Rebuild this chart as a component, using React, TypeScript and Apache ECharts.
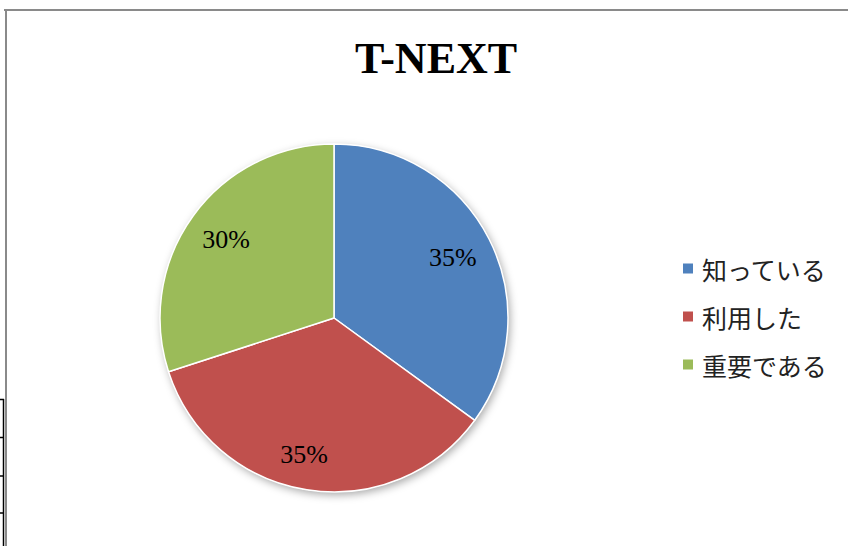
import React, { useEffect, useRef } from "react";
import * as echarts from "echarts";

const titleText = "T-NEXT";
const categories = ["知っている", "利用した", "重要である"];
const values = [35, 35, 30];
const colors = ["#4F81BD", "#C0504D", "#9BBB59"];

export default function App() {
  const ref = useRef<HTMLDivElement>(null);
  useEffect(() => {
    if (!ref.current) return;
    const chart = echarts.init(ref.current, null, { renderer: "svg" });
    const data = categories.map((name, i) => ({
      name,
      value: values[i],
      itemStyle: { color: colors[i] },
    }));
    const labelData = categories.map((name, i) => ({
      name,
      value: values[i],
      label: i === 1 ? { offset: [-9, 5] } : {},
    }));
    const center = [334, 318];
    const R = 174;
    chart.setOption({
      animation: false,
      backgroundColor: "#ffffff",
      title: {
        text: titleText,
        left: 431,
        textAlign: "center",
        top: 31,
        textStyle: {
          fontFamily: "Liberation Serif",
          fontWeight: "bold",
          fontSize: 44,
          color: "#000",
        },
      },
      legend: {
        orient: "vertical",
        left: 676,
        top: 251,
        icon: "rect",
        itemWidth: 12,
        itemHeight: 12,
        itemGap: 23,
        data: categories,
        selectedMode: false,
        textStyle: {
          fontFamily: "Noto Sans CJK JP",
          fontSize: 25,
          lineHeight: 25,
          color: "#222",
          padding: [0, 0, 0, 3],
        },
      },
      graphic: [
        { type: "line", shape: { x1: 4, y1: 10, x2: 848, y2: 10 }, style: { stroke: "#8a8a8a", lineWidth: 2 } },
        { type: "line", shape: { x1: 6, y1: 9, x2: 6, y2: 546 }, style: { stroke: "#8a8a8a", lineWidth: 2 } },
        { type: "line", shape: { x1: 3.5, y1: 399, x2: 3.5, y2: 546 }, style: { stroke: "#000", lineWidth: 1.5 } },
        { type: "line", shape: { x1: 0, y1: 399.5, x2: 4, y2: 399.5 }, style: { stroke: "#000", lineWidth: 1.5 } },
        { type: "line", shape: { x1: 0, y1: 437.5, x2: 4, y2: 437.5 }, style: { stroke: "#000", lineWidth: 1.5 } },
        { type: "line", shape: { x1: 0, y1: 476, x2: 4, y2: 476 }, style: { stroke: "#000", lineWidth: 1.5 } },
        { type: "line", shape: { x1: 0, y1: 513, x2: 4, y2: 513 }, style: { stroke: "#000", lineWidth: 1.5 } },
      ],
      series: [
        {
          type: "pie",
          name: "shadow",
          silent: true,
          center,
          radius: R,
          z: 1,
          legendHoverLink: false,
          label: { show: false },
          labelLine: { show: false },
          data: [{ name: "", value: 1 }],
          itemStyle: {
            color: "#ffffff",
            shadowBlur: 8,
            shadowColor: "rgba(0,0,0,0.35)",
            shadowOffsetX: 2,
            shadowOffsetY: 3,
          },
          tooltip: { show: false },
        },
        {
          type: "pie",
          name: "main",
          center,
          radius: R,
          startAngle: 90,
          clockwise: true,
          z: 2,
          label: { show: false },
          labelLine: { show: false },
          itemStyle: { borderColor: "#ffffff", borderWidth: 1.5 },
          emphasis: { disabled: true },
          data,
        },
        {
          type: "pie",
          name: "labels",
          silent: true,
          center,
          radius: [R * 0.5, R],
          startAngle: 90,
          clockwise: true,
          z: 3,
          itemStyle: { color: "transparent" },
          label: {
            show: true,
            position: "inside",
            formatter: "{d}%",
            fontFamily: "Liberation Serif",
            fontSize: 26,
            color: "#000",
          },
          labelLine: { show: false },
          emphasis: { disabled: true },
          data: labelData,
        },
      ],
    });
    return () => chart.dispose();
  }, []);
  return (
    <div
      ref={ref}
      style={{ position: "absolute", left: 0, top: 0, width: 848, height: 546 }}
    />
  );
}
